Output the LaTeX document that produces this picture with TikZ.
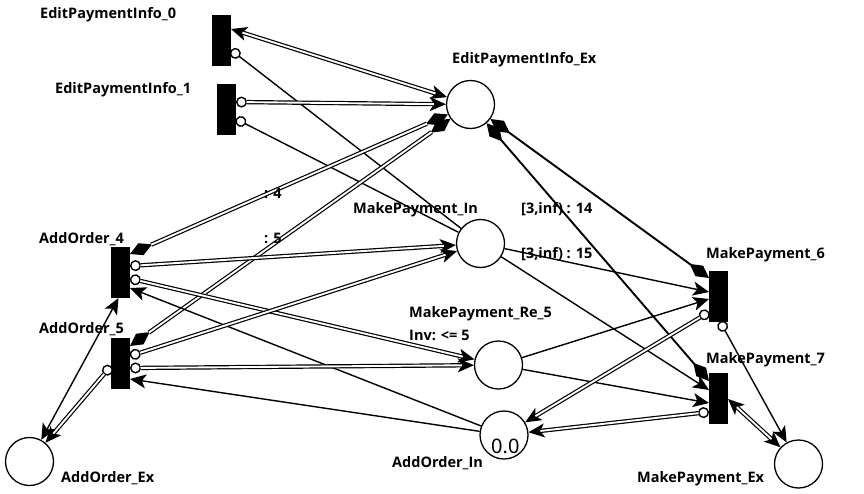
\documentclass[tikz,border=0pt]{standalone}
\usepackage{fontspec}
\newfontfamily\nsans{Noto Sans}
\IfFontExistsTF{Noto Sans Bold}{%
  \newfontfamily\nsansb{Noto Sans Bold}\def\lblsize{14.5}}{%
  \IfFontExistsTF{Open Sans Bold}{%
    \newfontfamily\nsansb{Open Sans Bold}\def\lblsize{14.5}}{%
    \newfontfamily\nsansb{DejaVu Sans Bold}\def\lblsize{12.8}}}
\usetikzlibrary{arrows.meta,calc}
\tikzset{
  place/.style={circle,draw,line width=1.3pt,minimum size=48pt,inner sep=0pt,fill=white},
  trans/.style={rectangle,fill=black,draw=none,minimum width=19pt,minimum height=51pt,inner sep=0pt},
  arc/.style={line width=1.4pt},
  heavyarc/.style={line width=1.9pt},
  dbl/.style={double,line width=1.2pt,double distance=1.9pt},
  lbl/.style={font=\nsansb\fontsize{\lblsize}{17}\selectfont,inner sep=0pt,anchor=base west},
  tAA/.style={arrows={Stealth[length=16pt,width=14pt,inset=4pt]-Stealth[length=16pt,width=14pt,inset=4pt]}},
  tCA/.style={arrows={Circle[length=11pt,width=11pt,fill=white]-Stealth[length=16pt,width=14pt,inset=4pt]}},
  tC/.style={arrows={Circle[length=11pt,width=11pt,fill=white]-}},
  tA/.style={arrows={-Stealth[length=16pt,width=14pt,inset=4pt]}},
  tDD/.style={arrows={Diamond[length=24pt,width=13pt]-Diamond[length=24pt,width=13pt]}},
}
% double connector: single path carrying the tips, double line laid over its middle
\newcommand{\dblarc}[5]{%
  \draw[arc,#1] (#2) -- (#3);
  \draw[dbl,shorten <=#4,shorten >=#5] (#2) -- (#3);}
\begin{document}
\begin{tikzpicture}[x=1pt,y=-1pt]
\useasboundingbox (0,0) rectangle (864,493);
% places
\node[place] (pepi) at (470.5,104.5) {};
\node[place] (pmpin) at (480.5,243.5) {};
\node[place] (pmpre) at (498.5,365) {};
\node[place] (paoin) at (504,435) {};
\node[place] (paoex) at (29.5,461.5) {};
\node[place] (pmpex) at (798.5,464) {};
% transitions
\node[trans] (t0) at (221.5,40.5) {};
\node[trans] (t1) at (226.5,109.5) {};
\node[trans] (t4) at (120.5,272.5) {};
\node[trans] (t5) at (120.5,363) {};
\node[trans] (t6) at (718.5,296) {};
\node[trans] (t7) at (718.5,398) {};
% attachment points
\coordinate (t0a) at ([shift={(9.5,-11.5)}]t0.center);
\coordinate (t0b) at ([shift={(9.5,9.5)}]t0.center);
\coordinate (t1a) at ([shift={(9.5,-7.5)}]t1.center);
\coordinate (t1b) at ([shift={(9.5,9.5)}]t1.center);
\coordinate (t4d) at ([shift={(9.5,-18.5)}]t4.center);
\coordinate (t4c1) at ([shift={(9.5,-6.5)}]t4.center);
\coordinate (t4c2) at ([shift={(9.5,6)}]t4.center);
\coordinate (t4e) at ([shift={(9.5,15.5)}]t4.center);
\coordinate (t4f) at ([shift={(-2,25.5)}]t4.center);
\coordinate (t5d) at ([shift={(9.5,-17)}]t5.center);
\coordinate (t5c1) at ([shift={(9.5,-7)}]t5.center);
\coordinate (t5c2) at ([shift={(9.5,5)}]t5.center);
\coordinate (t5e) at ([shift={(9.5,16)}]t5.center);
\coordinate (t5l) at ([shift={(-9.5,3)}]t5.center);
\coordinate (t6d) at ([shift={(-9.5,-18)}]t6.center);
\coordinate (t6i) at ([shift={(-9.5,-4)}]t6.center);
\coordinate (t6r) at ([shift={(-9.5,3)}]t6.center);
\coordinate (t6c) at ([shift={(-9.5,16)}]t6.center);
\coordinate (t6b) at ([shift={(1.5,25.5)}]t6.center);
\coordinate (t7d) at ([shift={(-9.5,-17)}]t7.center);
\coordinate (t7i) at ([shift={(-9.5,-8)}]t7.center);
\coordinate (t7r) at ([shift={(-9.5,5)}]t7.center);
\coordinate (t7c) at ([shift={(-9.5,14)}]t7.center);
\coordinate (t7x) at ([shift={(9.5,1)}]t7.center);
% arcs
\dblarc{tAA}{t0a}{pepi}{12pt}{12pt}
\draw[arc,tC] (t0b) -- (pmpin);
\dblarc{tCA}{t1a}{pepi}{10.5pt}{12pt}
\draw[arc,tC] (t1b) -- (pmpin);
\dblarc{tDD}{t4d}{pepi}{23pt}{23pt}
\dblarc{tDD}{t5d}{pepi}{23pt}{23pt}
\dblarc{tCA}{t4c1}{pmpin}{10.5pt}{12pt}
\dblarc{tCA}{t4c2}{pmpre}{10.5pt}{12pt}
\draw[arc,tA] (paoin) -- (t4e);
\draw[arc,tAA] (t4f) -- (paoex);
\dblarc{tCA}{t5c1}{pmpin}{10.5pt}{12pt}
\dblarc{tCA}{t5c2}{pmpre}{10.5pt}{12pt}
\draw[arc,tA] (paoin) -- (t5e);
\dblarc{tCA}{t5l}{paoex}{10.5pt}{12pt}
\draw[heavyarc,tDD] (pepi) -- (t6d);
\draw[heavyarc,tDD] (pepi) -- (t7d);
\draw[arc,tA] (pmpin) -- (t6i);
\draw[arc,tA] (pmpin) -- (t7i);
\draw[arc,tA] (pmpre) -- (t6r);
\draw[arc,tA] (pmpre) -- (t7r);
\dblarc{tCA}{t6c}{paoin}{10.5pt}{12pt}
\dblarc{tCA}{t7c}{paoin}{10.5pt}{12pt}
\draw[arc,tCA] (t6b) -- (pmpex);
\dblarc{tAA}{t7x}{pmpex}{12pt}{12pt}
% labels
\node[lbl] (l0) at (40,18) {EditPaymentInfo\_0};
\node[lbl] (l1) at (55,93) {EditPaymentInfo\_1};
\node[lbl] (lepi) at (452,63) {EditPaymentInfo\_Ex};
\node[lbl] (lmpin) at (353,213) {MakePayment\_In};
\node[lbl] (l14) at (521,213) {[3,inf) : 14};
\node[lbl] (l15) at (521,258) {[3,inf) : 15};
\node[lbl] (lw4) at (264,198) {: 4};
\node[lbl] (lw5) at (264,243) {: 5};
\node[lbl] (l4) at (39,243) {AddOrder\_4};
\node[lbl] (l5) at (39,333) {AddOrder\_5};
\node[lbl] (l6) at (706,258) {MakePayment\_6};
\node[lbl] (l7) at (706,363) {MakePayment\_7};
\node[lbl] (lre) at (409,317) {MakePayment\_Re\_5};
\node[lbl] (linv) at (409,340) {Inv: <= 5};
\node[lbl] (laoin) at (392,467) {AddOrder\_In};
\node[lbl] (laoex) at (61,482) {AddOrder\_Ex};
\node[lbl] (lmpex) at (637,482) {MakePayment\_Ex};
\node[font=\nsans\fontsize{20}{24}\selectfont,inner sep=0pt,anchor=base west] (tok) at (491,453) {0.0};
\end{tikzpicture}
\end{document}
